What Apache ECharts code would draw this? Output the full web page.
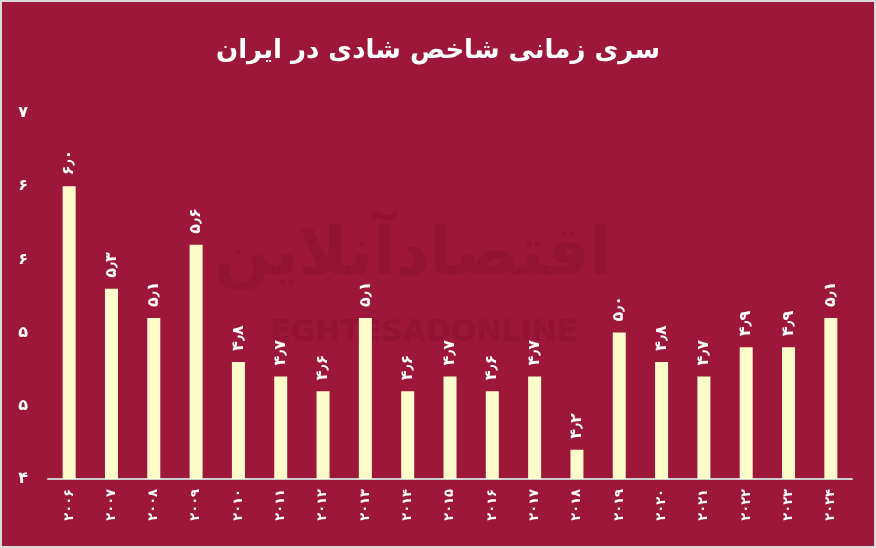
<!DOCTYPE html>
<html><head><meta charset="utf-8">
<script src="https://cdn.jsdelivr.net/npm/echarts@6/dist/echarts.min.js"></script>
<style>html,body{margin:0;padding:0;background:#d9d9d9}#c{width:872px;height:544px;margin:2px;}</style>
</head><body><div id="c"></div>
<script>
const years = ['2006','2007','2008','2009','2010','2011','2012','2013','2014','2015','2016','2017','2018','2019','2020','2021','2022','2023','2024'];
const happiness = [6.0,5.3,5.1,5.6,4.8,4.7,4.6,5.1,4.6,4.7,4.6,4.7,4.2,5.0,4.8,4.7,4.9,4.9,5.1];
const yMin = 4, yMax = 6.5, yStep = 0.5;
const titleText = 'سری زمانی شاخص شادی در ایران';

const fa = s => String(s).replace(/[0-9]/g, d => '۰۱۲۳۴۵۶۷۸۹'[d]).replace('.', '٫');
const chart = echarts.init(document.getElementById('c'));
chart.setOption({
  backgroundColor: '#9c1739',
  animation: false,
  title: { text: titleText, left: 'center', top: 31,
    textStyle: { color: '#fff', fontSize: 26, fontWeight: 'bold', fontFamily: 'DejaVu Sans' } },
  graphic: [
    { type: 'text', left: 212, top: 222, silent: true,
      style: { text: 'اقتصادآنلاین', fill: 'rgba(110,5,35,0.2)', font: 'bold 66px DejaVu Sans' } },
    { type: 'text', left: 268, top: 316, silent: true,
      style: { text: 'EGHTESADONLINE', fill: 'rgba(110,5,35,0.2)', font: 'bold 30px DejaVu Sans' } }
  ],
  grid: { left: 46, right: 22, top: 111, bottom: 67 },
  xAxis: {
    type: 'category', data: years,
    axisLine: { lineStyle: { color: '#cccccc', width: 2 } },
    axisTick: { show: false },
    axisLabel: { rotate: 90, color: '#fff', fontWeight: 'bold', fontSize: 13, margin: 10,
      fontFamily: 'DejaVu Sans', formatter: v => fa(v) }
  },
  yAxis: {
    type: 'value', min: yMin, max: yMax, interval: yStep,
    splitLine: { show: false }, axisLine: { show: false }, axisTick: { show: false },
    axisLabel: { color: '#fff', fontWeight: 'bold', fontSize: 16, margin: 20,
      fontFamily: 'DejaVu Sans', formatter: v => fa(Math.round(v)) }
  },
  series: [{
    type: 'bar', data: happiness, barWidth: 13,
    itemStyle: { color: '#fffccc' },
    label: { show: true, position: 'top', rotate: 90, align: 'left', verticalAlign: 'middle',
      distance: 11, color: '#fff', fontWeight: 'bold', fontSize: 16, fontFamily: 'DejaVu Sans',
      formatter: p => fa(p.value.toFixed(1)) }
  }]
});
</script></body></html>
